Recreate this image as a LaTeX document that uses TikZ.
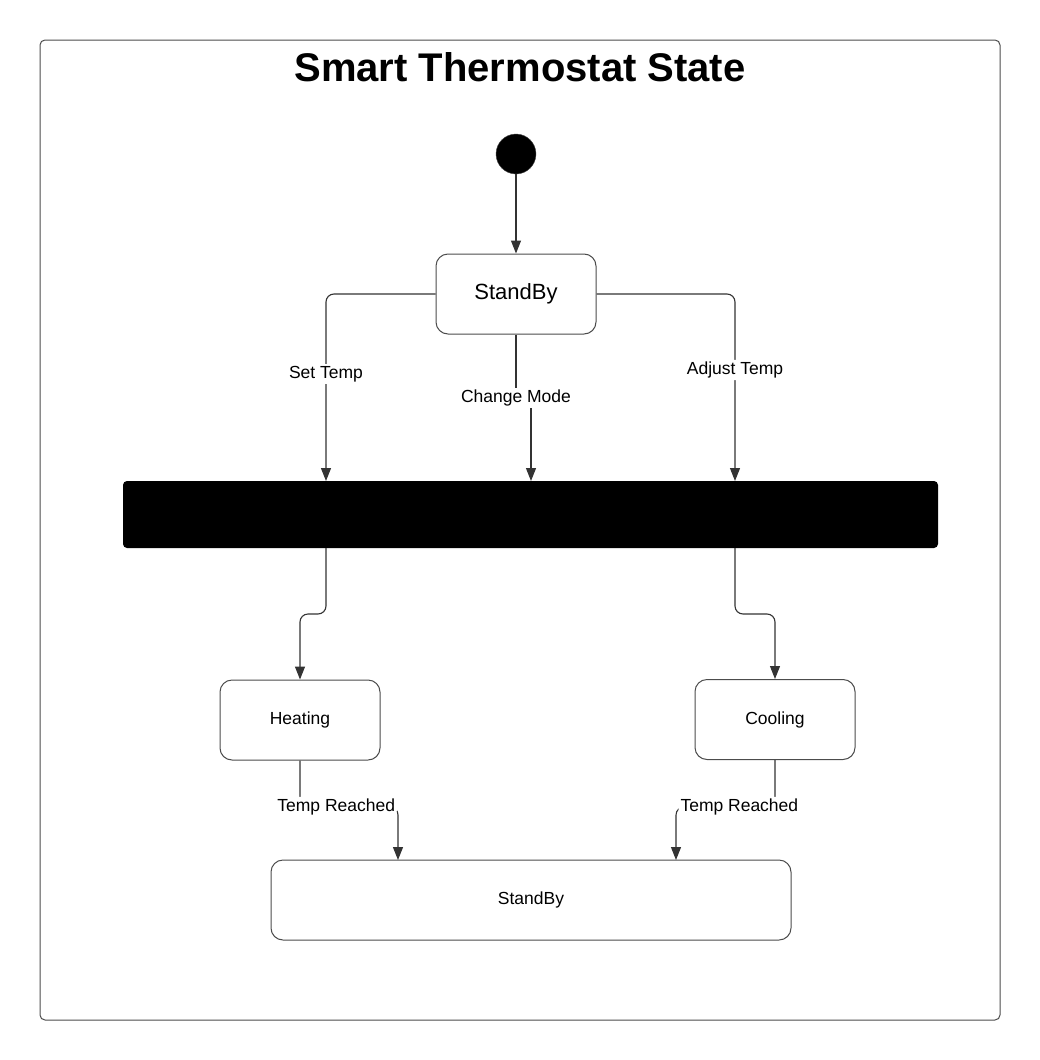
\documentclass[tikz,border=0pt]{standalone}
\usepackage{fontspec}
\setmainfont{Liberation Sans}
\usepackage{tikz}
\usetikzlibrary{arrows.meta}

\begin{document}
\begin{tikzpicture}[x=1pt,y=-1pt,
  state/.style={draw=black!70,line width=1pt,rounded corners=12,fill=white,
    font=\fontsize{17.5}{20}\selectfont},
  lbl/.style={fill=white,inner sep=2pt,font=\fontsize{17.5}{20}\selectfont},
  arr/.style={draw=black!80,line width=1.1pt,-{Triangle[length=13pt,width=10pt]}}]
  \useasboundingbox (0,0) rectangle (1040,1060);
  \draw[black!70,line width=1pt,rounded corners=5]
    (40,40)
    rectangle
    (1000,1020);
  \node[font=\fontsize{40}{44}\bfseries] (title) at (520,67) {Smart Thermostat State};
  \node[circle,fill=black,draw=black!70,minimum size=40pt,inner sep=0pt] (start) at (516,154) {};
  \node[state,minimum width=160pt,minimum height=80pt,font=\fontsize{22}{26}\selectfont]
    (idle) at (516,294) {StandBy};
  \node[fill=black,rounded corners=4,minimum width=815pt,minimum height=67pt,inner sep=0pt]
    (fork) at (530.5,514.5) {};
  \node[state,minimum width=160pt,minimum height=80pt] (heat) at (300,720) {Heating};
  \node[state,minimum width=160pt,minimum height=80pt] (cool) at (775,719.5) {Cooling};
  \node[state,minimum width=520pt,minimum height=80pt] (idle2) at (531,900) {StandBy};
  \coordinate (f1) at (326,481);
  \coordinate (f2) at (531,481);
  \coordinate (f3) at (735,481);
  \coordinate (f4) at (326,548);
  \coordinate (f5) at (735,548);
  \coordinate (b1) at (398,860);
  \coordinate (b2) at (676,860);
  \draw[arr]
    (start)
    --
    (idle);
  \draw[arr,rounded corners=8]
    (idle.west)
    -|
    node[lbl,pos=0.714] {Set Temp}
    (f1);
  \draw[arr]
    (idle.south)
    --
    (516,398)
    --
    node[lbl,pos=0] {Change Mode}
    (531,398)
    --
    (f2);
  \draw[arr,rounded corners=8]
    (idle.east)
    -|
    node[lbl,pos=0.703] {Adjust Temp}
    (f3);
  \draw[arr,rounded corners=8]
    (f4)
    --
    (326,614)
    --
    (300,614)
    --
    (heat);
  \draw[arr,rounded corners=8]
    (f5)
    --
    (735,614)
    --
    (775,614)
    --
    (cool);
  \draw[arr,rounded corners=8]
    (heat)
    --
    (300,807)
    --
    node[lbl,pos=0.37] {Temp Reached}
    (398,807)
    --
    (b1);
  \draw[arr,rounded corners=8]
    (cool)
    --
    (775,807)
    --
    node[lbl,pos=0.36] {Temp Reached}
    (676,807)
    --
    (b2);
\end{tikzpicture}
\end{document}
